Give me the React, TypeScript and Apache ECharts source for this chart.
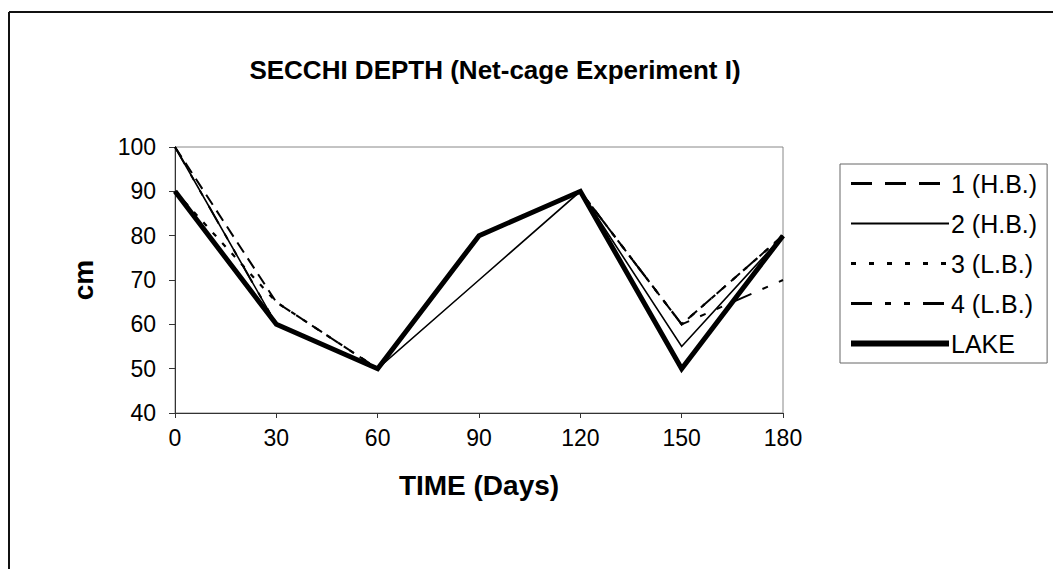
import React, { useEffect, useRef } from "react";
import * as echarts from "echarts";

const days = [0, 30, 60, 90, 120, 150, 180];
const yTicks = [40, 50, 60, 70, 80, 90, 100];
const seriesNames = ["1 (H.B.)", "2 (H.B.)", "3 (L.B.)", "4 (L.B.)", "LAKE"];
const hb1 = [100, 65, 50, 80, 90, 60, 80];
const hb2 = [100, 60, 50, 70, 90, 55, 80];
const lb3 = [90, 65, 50, 80, 90, 60, 80];
const lb4 = [100, 60, 50, 80, 90, 60, 70];
const lake = [90, 60, 50, 80, 90, 50, 80];

const FONT = "'Liberation Sans', Arial, sans-serif";

export default function App() {
  const ref = useRef<HTMLDivElement>(null);
  useEffect(() => {
    if (!ref.current) return;
    const chart = echarts.init(ref.current, undefined, { renderer: "svg" });
    const pairs = (vals: number[]) => vals.map((v, i) => [days[i], v]);
    const styles: any[] = [
      { width: 2, type: [12, 7] },
      { width: 1.6, type: "solid" },
      { width: 2.2, type: [5, 9] },
      { width: 2, type: [20, 12, 6, 12, 6, 12] },
      { width: 5, type: "solid" },
    ];
    const legendStyles: any[] = [
      { width: 3, type: [21, 13] },
      { width: 2, type: "solid" },
      { width: 3, type: [5, 13] },
      { width: 3, type: [21, 13, 6, 13, 6, 13] },
      { width: 6, type: "solid" },
    ];
    const valueSets = [hb1, hb2, lb3, lb4, lake];
    chart.setOption({
      animation: false,
      backgroundColor: "#ffffff",
      title: {
        text: "SECCHI DEPTH (Net-cage Experiment I)",
        left: 490,
        top: 52,
        textAlign: "center",
        textStyle: { fontFamily: FONT, fontSize: 26, fontWeight: "bold", color: "#000" },
      },
      grid: {
        left: 175,
        top: 147,
        right: 270,
        bottom: 156,
        show: true,
        borderColor: "#888",
        borderWidth: 1,
        backgroundColor: "transparent",
      },
      legend: {
        orient: "vertical",
        left: 840,
        top: 164,
        padding: [6, 10, 6, 8],
        itemWidth: 98,
        itemHeight: 14,
        itemGap: 13,
        borderColor: "#666",
        borderWidth: 1,
        itemStyle: { opacity: 0 },
        data: seriesNames.map((n, i) => ({
          name: n,
          lineStyle: { width: legendStyles[i].width, type: legendStyles[i].type, color: "#000" },
          itemStyle: { opacity: 0 },
        })),
        textStyle: { fontFamily: FONT, fontSize: 25, color: "#000", lineHeight: 27, padding: [0, 0, 0, -3] },
      },
      xAxis: {
        type: "value",
        min: 0,
        max: 180,
        interval: 30,
        name: "TIME (Days)",
        nameLocation: "middle",
        nameGap: 58,
        nameTextStyle: { fontFamily: FONT, fontSize: 28, fontWeight: "bold", color: "#000" },
        axisLine: { lineStyle: { color: "#333", width: 1 } },
        axisTick: { show: true, length: 5, lineStyle: { color: "#333" } },
        axisLabel: {
          fontFamily: FONT,
          fontSize: 23,
          color: "#000",
          margin: 13,
          formatter: (v: number) => (days.includes(v) ? String(v) : ""),
        },
        splitLine: { show: false },
      },
      yAxis: {
        type: "value",
        min: 40,
        max: 100,
        interval: 10,
        name: "cm",
        nameLocation: "middle",
        nameGap: 78,
        nameRotate: 90,
        nameTextStyle: { fontFamily: FONT, fontSize: 28, fontWeight: "bold", color: "#000" },
        axisLine: { show: true, lineStyle: { color: "#333", width: 1 } },
        axisTick: { show: true, length: 6, lineStyle: { color: "#333" } },
        axisLabel: {
          fontFamily: FONT,
          fontSize: 23,
          color: "#000",
          margin: 19,
          formatter: (v: number) => (yTicks.includes(v) ? String(v) : ""),
        },
        splitLine: { show: false },
      },
      graphic: [
        { type: "line", shape: { x1: 9, y1: 12, x2: 1053, y2: 12 }, style: { stroke: "#111", lineWidth: 2 } },
        { type: "line", shape: { x1: 9, y1: 12, x2: 9, y2: 569 }, style: { stroke: "#111", lineWidth: 2 } },
      ],
      series: seriesNames.map((name, i) => ({
        name,
        type: "line",
        data: pairs(valueSets[i]),
        symbol: "none",
        lineStyle: { color: "#000", ...styles[i], join: "miter" },
        itemStyle: { color: "#000" },
        z: i === 4 ? 3 : 2,
      })),
    });
    return () => chart.dispose();
  }, []);
  return (
    <div
      ref={ref}
      style={{ position: "absolute", left: 0, top: 0, width: 1053, height: 569, background: "#fff" }}
    />
  );
}
